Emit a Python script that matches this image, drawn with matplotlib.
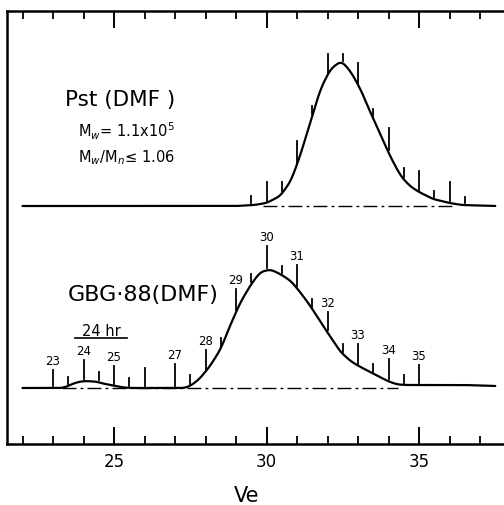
import numpy as np
import matplotlib
matplotlib.use("Agg")
import matplotlib.pyplot as plt

# elution volume (ml) vs detector response
pst_ve = [22.0, 29.0, 29.6, 30.0, 30.45, 30.8, 31.1, 31.44, 31.77, 32.1, 32.45,
          32.75, 33.08, 33.4, 33.7, 34.05, 34.4, 34.7, 35.0, 35.46, 36.0, 36.4, 37.5]
pst_resp = [0, 0, 1, 3, 10, 25, 50, 84, 117, 137, 145,
            135, 117, 94, 74, 50, 30, 20, 14, 7, 3, 1, 0]

gbg_ve = [22.0, 23.3, 23.5, 23.7, 24.0, 24.4, 24.7, 24.9, 25.3, 25.6, 27.3, 27.5,
          27.8, 28.15, 28.5, 28.8, 29.15, 29.5, 29.8, 30.13, 30.45, 30.8, 31.1,
          31.44, 31.77, 32.1, 32.4, 32.75, 33.08, 33.4, 33.7, 34.05, 34.3, 34.6,
          35.5, 36.5, 37.5]
gbg_resp = [0, 0, 2, 5, 7, 6.5, 4, 3, 0.5, 0, 0, 2,
            9, 22, 39, 62, 86, 104, 116, 118.5, 114, 107, 96,
            82, 66, 51, 37, 27, 21, 16, 11, 6, 3.5, 3,
            3, 3, 2]

# fraction cuts (position, marker length)
pst_frac = [29.5, 30.0, 30.5, 31.0, 31.5, 32.0, 32.5, 33.0, 33.5, 34.0, 34.5, 35.0, 35.5, 36.0, 36.5]
pst_frac_len = [7, 19, 9, 21, 8, 19, 7, 20, 8, 22, 9, 19, 6, 19, 6]

gbg_frac = [23.0, 23.5, 24.0, 24.5, 25.0, 25.5, 26.0, 27.0, 27.5, 28.0, 28.5, 29.0,
            29.5, 30.0, 30.5, 31.0, 31.5, 32.0, 32.5, 33.0, 33.5, 34.0, 34.5, 35.0]
gbg_frac_len = [16, 7, 19, 8, 18, 8, 18, 22, 9, 20, 8, 21,
                8, 22, 7, 21, 8, 18, 8, 20, 8, 20, 8, 18]
gbg_frac_labels = {23.0: "23", 24.0: "24", 25.0: "25", 27.0: "27", 28.0: "28", 29.0: "29",
                   30.0: "30", 31.0: "31", 32.0: "32", 33.0: "33", 34.0: "34", 35.0: "35"}

pst_base = 238
gbg_base = 56


def smooth_trace(ve, resp):
    x = np.linspace(ve[0], ve[-1], 1200)
    y = np.interp(x, ve, resp)
    k = np.ones(21) / 21
    ys = np.convolve(np.pad(y, 10, mode="edge"), k, mode="valid")
    return x, ys


fig = plt.figure(figsize=(5.04, 5.06), dpi=100)
ax = fig.add_axes([7.25 / 504, 61 / 506, 512.4 / 504, 433 / 506])
ax.set_xlim(21.5, 38.3)
ax.set_ylim(0, 433)

for ve, resp, base, frac, flen in [(pst_ve, pst_resp, pst_base, pst_frac, pst_frac_len),
                                   (gbg_ve, gbg_resp, gbg_base, gbg_frac, gbg_frac_len)]:
    x, y = smooth_trace(ve, resp)
    ax.plot(x, y + base, color="black", lw=1.6, solid_capstyle="round")
    for f, ln in zip(frac, flen):
        bottom = np.interp(f, x, y) + base + 2
        ax.plot([f, f], [bottom, bottom + ln], color="black", lw=1.3)
        if base == gbg_base and f in gbg_frac_labels:
            ax.text(f, bottom + ln + 3, gbg_frac_labels[f], ha="center", va="bottom",
                    fontsize=8.5)

# dash-dot baselines
ax.plot([29.9, 36.2], [pst_base, pst_base], color="black", lw=1.0, ls=(0, (10, 3, 2, 3)))
ax.plot([23.3, 34.3], [gbg_base, gbg_base], color="black", lw=1.0, ls=(0, (10, 3, 2, 3)))

# annotations
ax.text(23.39, 345, "Pst (DMF )", fontsize=15.5, ha="left", va="center")
ax.text(23.82, 314, r"M$_w$= 1.1x10$^5$", fontsize=10.5, ha="left", va="center")
ax.text(23.82, 287, r"M$_w$/M$_n$≤ 1.06", fontsize=10.5, ha="left", va="center")
ax.text(23.49, 150, "GBG·88(DMF)", fontsize=16, ha="left", va="center")
ax.text(24.57, 114, "24 hr", fontsize=10.5, ha="center", va="center")
ax.plot([23.72, 25.43], [106, 106], color="black", lw=1.2)

ax.text(29.36, -51, "Ve", fontsize=15, ha="center", va="center", clip_on=False)

# frame and ticks
for side in ["left", "top", "bottom"]:
    ax.spines[side].set_linewidth(1.8)
ax.spines["right"].set_visible(False)
ax.set_yticks([])
ax.set_xticks([25, 30, 35])
ax.set_xticklabels(["25", "30", "35"], fontsize=12)
ax.set_xticks(np.arange(22, 38), minor=True)
ax.tick_params(axis="x", which="major", direction="in", length=12, width=1.4,
               top=True, pad=6)
ax.tick_params(axis="x", which="minor", direction="in", length=6, width=1.3, top=True)

fig.savefig("out.png", dpi=100)
